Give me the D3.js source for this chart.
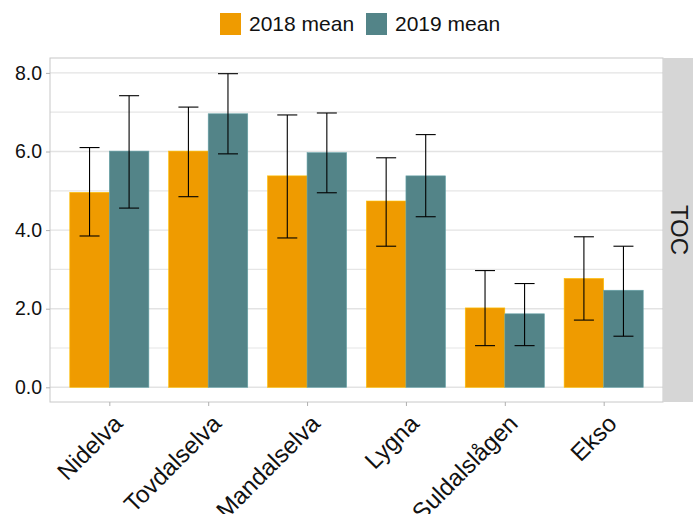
<!DOCTYPE html>
<html>
<head>
<meta charset="utf-8">
<script src="https://cdn.jsdelivr.net/npm/d3@7"></script>
<style>
  html, body { margin: 0; padding: 0; background: #fff; }
  text { font-family: "Liberation Sans", Arial, sans-serif; }
</style>
</head>
<body>
<svg id="chart" width="693" height="514"></svg>
<script>
// TOC per river: yearly means with error ranges
const rivers = ["Nidelva", "Tovdalselva", "Mandalselva", "Lygna", "Suldalslågen", "Ekso"];
const seriesNames = ["2018 mean", "2019 mean"];
const mean2018 = [4.96, 6.01, 5.38, 4.74, 2.02, 2.77];
const mean2019 = [6.01, 6.96, 5.97, 5.38, 1.87, 2.47];
const low2018  = [3.85, 4.85, 3.80, 3.59, 1.06, 1.71];
const high2018 = [6.10, 7.13, 6.93, 5.84, 2.97, 3.83];
const low2019  = [4.56, 5.94, 4.95, 4.34, 1.06, 1.30];
const high2019 = [7.42, 7.98, 6.98, 6.43, 2.64, 3.59];
const yTicks = [0, 2, 4, 6, 8];
const yMinor = [1, 3, 5, 7];
const facetLabel = "TOC";
const colors = ["#EF9B00", "#538488"];

const rows = [];
rivers.forEach((r, i) => {
  rows.push({ river: r, series: seriesNames[0], mean: mean2018[i], lo: low2018[i], hi: high2018[i] });
  rows.push({ river: r, series: seriesNames[1], mean: mean2019[i], lo: low2019[i], hi: high2019[i] });
});

const svg = d3.select("#chart");
const panel = { left: 50, right: 663, top: 58, bottom: 402 };

// Discrete x with 0.6 band expansion on each side
const step = (panel.right - panel.left) / (rivers.length - 1 + 1.2);
const x = d3.scalePoint().domain(rivers)
  .range([panel.left + 0.6 * step, panel.right - 0.6 * step]);
const xSub = d3.scaleBand().domain(seriesNames).range([-0.4 * step, 0.4 * step]).padding(0);
const y = d3.scaleLinear().domain([0, 8]).range([387.3, 72.9]);
const color = d3.scaleOrdinal().domain(seriesNames).range(colors);

// Panel background and grid
svg.append("rect").attr("x", panel.left).attr("y", panel.top)
  .attr("width", panel.right - panel.left).attr("height", panel.bottom - panel.top)
  .attr("fill", "#fff");

const grid = svg.append("g");
grid.selectAll("line.minor").data(yMinor).join("line")
  .attr("x1", panel.left).attr("x2", panel.right)
  .attr("y1", d => y(d)).attr("y2", d => y(d))
  .attr("stroke", "#e6e6e6").attr("stroke-width", 1.2);
grid.selectAll("line.major").data(yTicks).join("line")
  .attr("x1", panel.left).attr("x2", panel.right)
  .attr("y1", d => y(d)).attr("y2", d => y(d))
  .attr("stroke", "#e3e3e3").attr("stroke-width", 1.4);

// Bars
svg.append("g").selectAll("rect").data(rows).join("rect")
  .attr("x", d => x(d.river) + xSub(d.series))
  .attr("width", xSub.bandwidth())
  .attr("y", d => y(d.mean))
  .attr("height", d => y(0) - y(d.mean))
  .attr("fill", d => color(d.series))
  .attr("stroke", d => d3.color(color(d.series)).brighter(0.6))
  .attr("stroke-width", 0.6);

// Error bars
const cap = 10;
const eb = svg.append("g").attr("stroke", "#000").attr("stroke-width", 1.1).attr("fill", "none");
rows.forEach(d => {
  const cx = x(d.river) + xSub(d.series) + xSub.bandwidth() / 2;
  eb.append("line").attr("x1", cx).attr("x2", cx).attr("y1", y(d.lo)).attr("y2", y(d.hi));
  eb.append("line").attr("x1", cx - cap).attr("x2", cx + cap).attr("y1", y(d.hi)).attr("y2", y(d.hi));
  eb.append("line").attr("x1", cx - cap).attr("x2", cx + cap).attr("y1", y(d.lo)).attr("y2", y(d.lo));
});

// Panel border
svg.append("rect").attr("x", panel.left).attr("y", panel.top)
  .attr("width", panel.right - panel.left).attr("height", panel.bottom - panel.top)
  .attr("fill", "none").attr("stroke", "#c8c8c8").attr("stroke-width", 1);

// Y axis
const yAxis = svg.append("g").attr("transform", `translate(${panel.left},0)`)
  .call(d3.axisLeft(y).tickValues(yTicks).tickFormat(d3.format(".1f")).tickSize(4).tickPadding(4));
yAxis.select(".domain").remove();
yAxis.selectAll(".tick line").attr("stroke", "#b0b0b0");
yAxis.selectAll(".tick text").attr("font-size", 19.5).attr("fill", "#111")
  .attr("font-family", "Liberation Sans, Arial, sans-serif");

// X axis with rotated category labels
const xAxis = svg.append("g").attr("transform", `translate(0,${panel.bottom})`)
  .call(d3.axisBottom(x).tickSize(4).tickPadding(0));
xAxis.select(".domain").remove();
xAxis.selectAll(".tick line").attr("stroke", "#b0b0b0");
xAxis.selectAll(".tick text")
  .attr("font-size", 24).attr("fill", "#111")
  .attr("font-family", "Liberation Sans, Arial, sans-serif")
  .attr("text-anchor", "end")
  .attr("dy", 0).attr("y", 0).attr("x", 0)
  .attr("transform", "translate(14,23) rotate(-45)");

// Facet strip
svg.append("rect").attr("x", panel.right).attr("y", panel.top)
  .attr("width", 40).attr("height", panel.bottom - panel.top).attr("fill", "#d6d6d6");
svg.append("text")
  .attr("transform", `translate(${panel.right + 16},${(panel.top + panel.bottom) / 2}) rotate(90)`)
  .attr("text-anchor", "middle").attr("dy", "0.35em")
  .attr("font-size", 24).attr("fill", "#1a1a1a").text(facetLabel);

// Legend
const legendItems = [{ name: seriesNames[0], x: 220 }, { name: seriesNames[1], x: 366 }];
const lg = svg.append("g");
legendItems.forEach(it => {
  lg.append("rect").attr("x", it.x).attr("y", 13).attr("width", 21).attr("height", 22)
    .attr("fill", color(it.name));
  lg.append("text").attr("x", it.x + 29).attr("y", 24).attr("dy", "0.35em")
    .attr("font-size", 21).attr("fill", "#111").text(it.name);
});
</script>
</body>
</html>
